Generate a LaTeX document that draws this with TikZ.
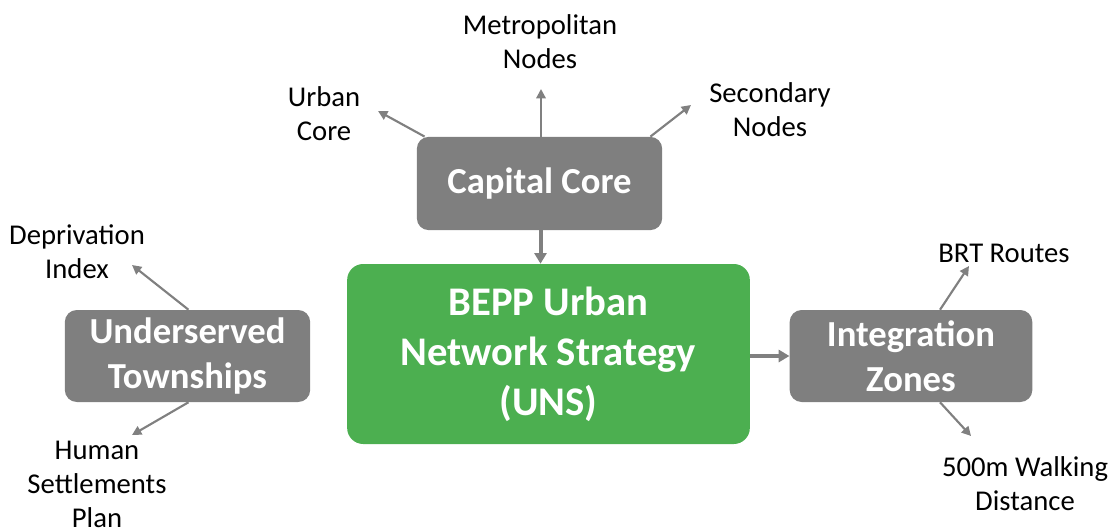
\documentclass[tikz,border=0pt]{standalone}
\usepackage{fontspec}
\setmainfont{Carlito}
\usetikzlibrary{arrows.meta,calc}
\definecolor{boxgray}{RGB}{127,127,127}
\definecolor{boxgreen}{RGB}{76,175,80}
\definecolor{linegray}{RGB}{128,128,128}
\begin{document}
\begin{tikzpicture}[x=0.75pt,y=-0.75pt,
  graybox/.style={fill=boxgray,rounded corners=9pt,text=white,font=\bfseries\fontsize{27.5}{34}\selectfont,align=center,inner sep=0pt},
  greenbox/.style={fill=boxgreen,rounded corners=12pt,text=white,font=\bfseries\fontsize{30.5}{37.5}\selectfont,align=center,inner sep=0pt},
  lbl/.style={font=\fontsize{21.5}{25.5}\selectfont,align=center,text=black,inner sep=0pt},
  thin/.style={draw=linegray,line width=1.6pt,-{Triangle[length=7pt,width=7pt]}},
  thick/.style={draw=linegray,line width=3pt,-{Triangle[length=8pt,width=9pt]}}]
\useasboundingbox (0,0) rectangle (1116,531);
\node[graybox,minimum width=184pt,minimum height=70pt] (cc) at (539.5,183.5) {Capital Core};
\node[greenbox,minimum width=302pt,minimum height=135pt] (uns) at (548.5,354) {BEPP Urban\\Network Strategy\\(UNS)};
\node[graybox,minimum width=184pt,minimum height=69pt] (ut) at (187.5,356) {Underserved\\Townships};
\node[graybox,minimum width=182pt,minimum height=69pt] (iz) at (911,356) {Integration\\Zones};

\node[lbl] (urb) at (324,114) {Urban\\Core};
\node[lbl] (met) at (540,42) {Metropolitan\\Nodes};
\node[lbl] (sec) at (770,110) {Secondary\\Nodes};
\node[lbl] (dep) at (77,252) {Deprivation\\Index};
\node[lbl] (hum) at (97,484) {Human\\Settlements\\Plan};
\node[lbl] (brt) at (1004,253) {BRT Routes};
\node[lbl] (walk) at (1025,484) {500m Walking\\Distance};

\coordinate (urbT) at (378,111);
\coordinate (metT) at (541,89);
\coordinate (secT) at (691,105);
\coordinate (depT) at (132,265);
\coordinate (humT) at (132,435);
\coordinate (brtT) at (969,266);
\coordinate (walkT) at (971,436);

\draw[thin] ($(cc.north west)+(8,0)$) -- (urbT);
\draw[thin] ($(cc.north)+(1.5,0)$) -- (metT);
\draw[thin] ($(cc.north east)+(-12,0)$) -- (secT);
\draw[thin] ($(ut.north)+(1,0)$) -- (depT);
\draw[thin] ($(ut.south)+(1,0)$) -- (humT);
\draw[thin] ($(iz.north)+(29,0)$) -- (brtT);
\draw[thin] ($(iz.south)+(29,0)$) -- (walkT);
\draw[thick] ($(cc.south)+(1,0)$) -- ($(uns.north)+(-8,0)$);
\draw[thick] (uns.east |- iz.west) -- (iz.west);
\end{tikzpicture}
\end{document}
